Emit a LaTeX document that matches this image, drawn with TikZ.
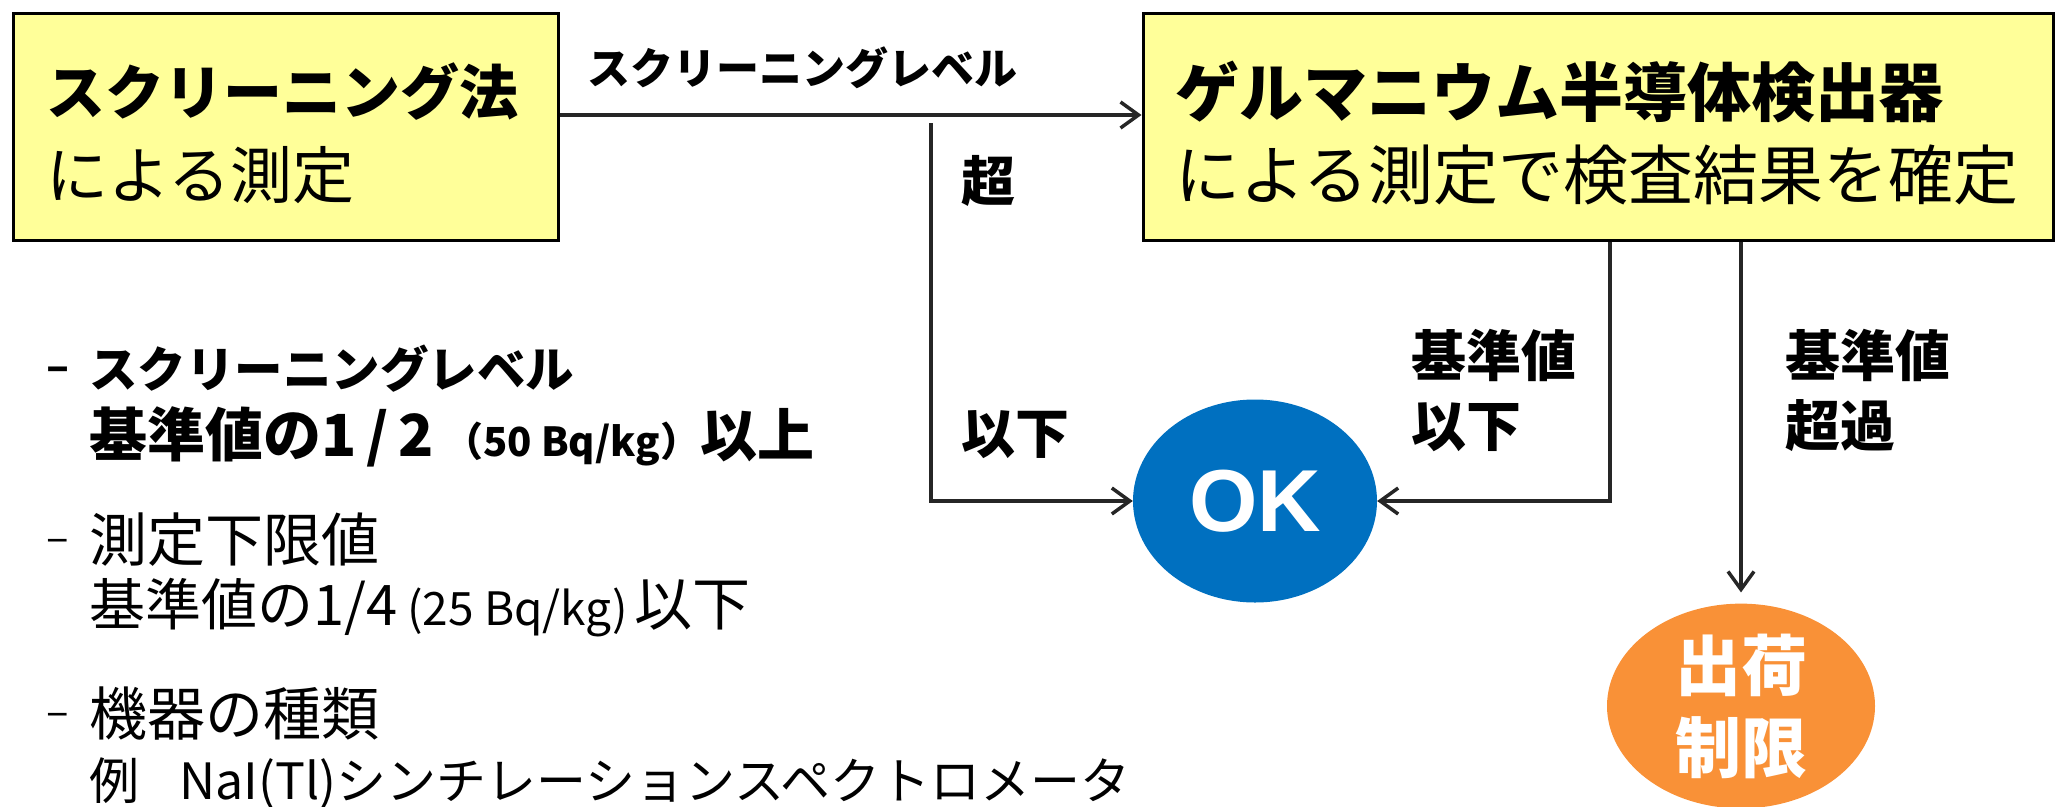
\documentclass[tikz,border=0pt]{standalone}
\usepackage{fontspec}
\setmainfont{Noto Sans CJK JP}
\usetikzlibrary{shapes.geometric,arrows.meta}
\definecolor{boxyellow}{HTML}{FFFF99}
\definecolor{okblue}{HTML}{0070C0}
\definecolor{ngorange}{RGB}{249,145,55}
\definecolor{linegray}{RGB}{38,38,38}
\newcommand{\fsz}[2]{\fontsize{#1pt}{#2pt}\selectfont}
\newcommand{\bulletdash}[1]{\makebox[43pt][l]{\raisebox{#1}{\fsz{42}{50}–}}}
\begin{document}
\begin{tikzpicture}[x=1pt,y=-1pt,
  ybox/.style={draw=black, line width=3pt, fill=boxyellow, rectangle, inner sep=0pt},
  lbl/.style={inner sep=0pt, anchor=west, text=black, align=left},
  arr/.style={draw=linegray, line width=3.5pt,
    -{Straight Barb[length=18pt,width=26pt,line width=3.5pt]}},
  oval/.style={ellipse, inner sep=0pt, text=white, align=center}]
\useasboundingbox (0,0) rectangle (2064,806);

% boxes
\node[ybox, minimum width=545pt, minimum height=227pt] (sbox) at (285.5,126.5) {};
\node[ybox, minimum width=910pt, minimum height=227pt] (gbox) at (1598,126.5) {};
\node[lbl] (s1) at (46,92) {\fsz{59}{70}\bfseries スクリーニング法};
\node[lbl] (s2) at (46,175) {\fsz{62}{70}による測定};
\node[lbl] (g1) at (1175,92) {\fsz{64}{70}\bfseries ゲルマニウム半導体検出器};
\node[lbl] (g2) at (1175,175) {\fsz{65}{70}による測定で検査結果を確定};

% result ovals
\node[oval, fill=okblue, minimum width=244pt, minimum height=203pt,
  font={\fontspec{Liberation Sans}\fsz{88}{90}\bfseries}] (ok) at (1255,501) {OK};
\node[oval, fill=ngorange, minimum width=268pt, minimum height=204pt,
  font={\fsz{66}{82}\bfseries}] (ng) at (1741,706) {出荷\\制限};

% connectors
\coordinate (split) at (931,123);
\draw[arr] ([yshift=11.5pt]sbox.east) -- ([yshift=11.5pt]gbox.west);
\draw[arr] (split) |- (ok.west);
\draw[arr] ([xshift=12pt]gbox.south) |- (ok.east);
\draw[arr, shorten >=11pt] ([xshift=143pt]gbox.south) -- (ng.north);

% connector labels
\node[lbl] (t0) at (587,68) {\fsz{43}{50}\bfseries スクリーニングレベル};
\node[lbl] (t1) at (961,181) {\fsz{54}{60}\bfseries 超};
\node[lbl] (t2) at (961,435) {\fsz{54}{60}\bfseries 以下};
\node[lbl, font={\fsz{55}{70}\bfseries}] (t3) at (1411,390) {基準値\\以下};
\node[lbl, font={\fsz{55}{70}\bfseries}] (t4) at (1785,390) {基準値\\超過};

% notes
\node[lbl] (n1) at (46,369) {\bfseries\bulletdash{6pt}\fsz{48.5}{50}スクリーニングレベル};
\node[lbl] (n2) at (89,437) {\bfseries\fsz{58}{60}基準値の1\,/\,2\,\fsz{40}{60}（50 Bq/kg）\fsz{57}{60}以上};
\node[lbl] (n3) at (46,540) {\bulletdash{9pt}\fsz{58}{60}測定下限値};
\node[lbl] (n4) at (89,608) {\fsz{56}{60}基準値の1/4\hspace{10pt}\fsz{46}{60}(25 Bq/kg)\hspace{6pt}\fsz{58}{60}以下};
\node[lbl] (n5) at (46,714) {\bulletdash{9pt}\fsz{58}{60}機器の種類};
\node[lbl] (n6) at (89,783) {\fsz{50}{60}例\hspace{40pt}NaI(Tl)シンチレーションスペクトロメータ};
\end{tikzpicture}
\end{document}
